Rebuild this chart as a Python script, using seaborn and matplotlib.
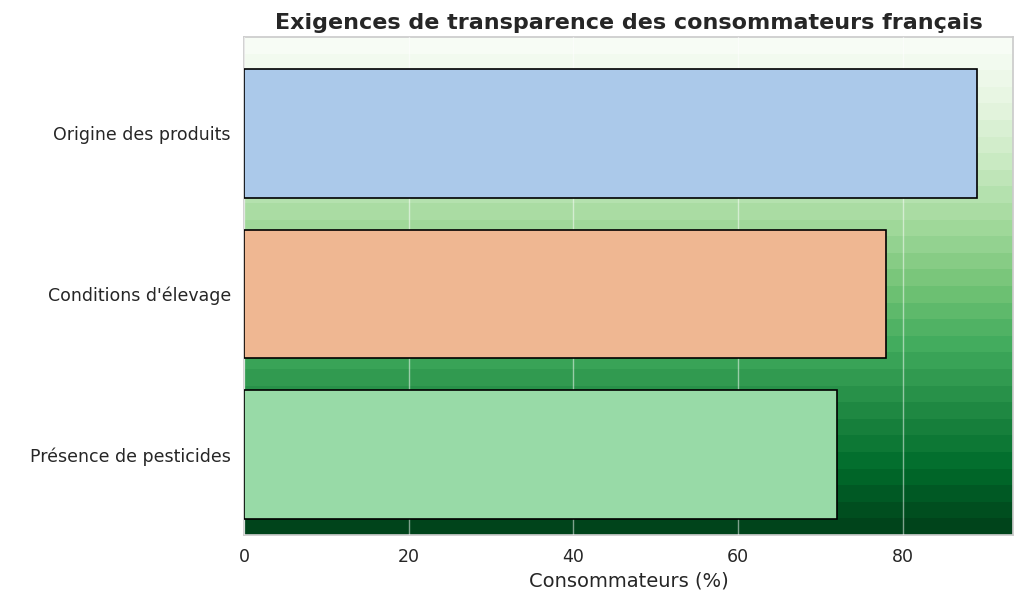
import matplotlib
matplotlib.use("Agg")
import matplotlib.pyplot as plt
import seaborn as sns
import numpy as np
import pandas as pd

categories = ["Origine des produits", "Conditions d'élevage", "Présence de pesticides"]
values = [89, 78, 72]

sns.set_theme(style="whitegrid")
fig = plt.figure(figsize=(10.24, 6.05), dpi=100)
ax = fig.add_axes([244/1024, 1-535/605, (1013-244)/1024, (535-37)/605])

xmax = 93.4
grad = np.linspace(0, 1, 30).reshape(-1, 1)
ax.imshow(grad, extent=[0, xmax, 2.5, -0.6], aspect="auto", cmap="Greens", zorder=0, interpolation="nearest")

df = pd.DataFrame({"cat": categories, "val": values})
sns.barplot(data=df, x="val", y="cat", hue="cat", palette=sns.color_palette("pastel", 3),
            edgecolor="black", linewidth=1.2, width=0.8, legend=False, ax=ax, zorder=2)
ax.set_xlim(0, xmax)
ax.set_ylim(2.5, -0.6)
ax.set_axisbelow(False)
ax.grid(True, axis="x", color="white", alpha=0.5, zorder=1)
ax.grid(False, axis="y")
for b in ax.patches:
    b.set_zorder(3)
ax.set_xticks([0, 20, 40, 60, 80])
ax.tick_params(labelsize=12.5)
ax.set_ylabel("")
ax.set_xlabel("Consommateurs (%)", fontsize=14)
ax.set_title("Exigences de transparence des consommateurs français", fontsize=16, fontweight="bold")
fig.savefig("out.png", dpi=100)
